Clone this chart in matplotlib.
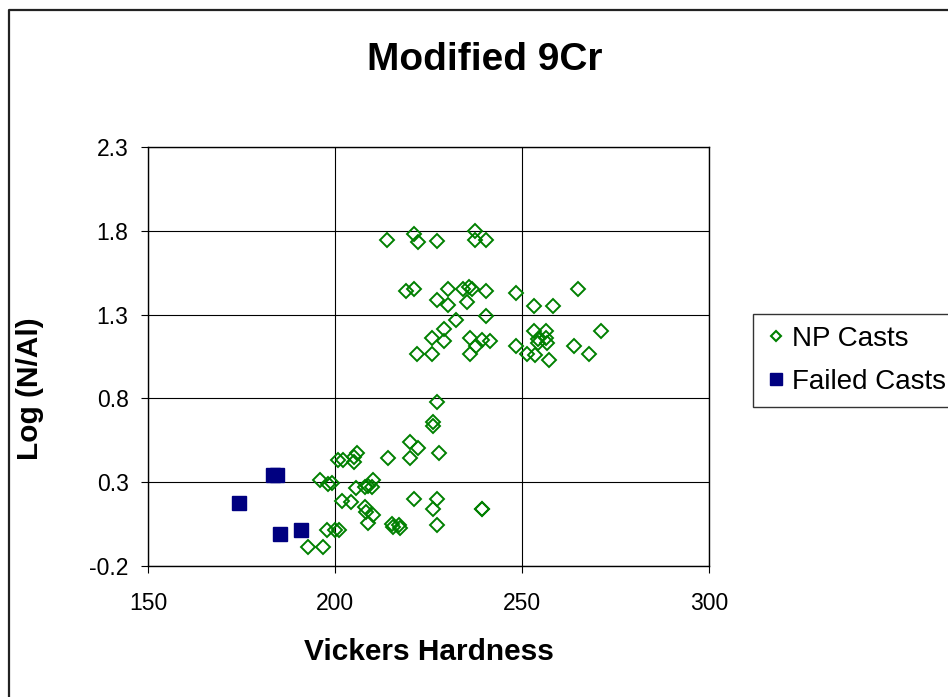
import matplotlib
matplotlib.use("Agg")
import matplotlib.pyplot as plt
from matplotlib.lines import Line2D

plt.rcParams['font.family'] = ['Liberation Sans', 'DejaVu Sans']

np_x = [196.0, 198.2, 199.1, 192.9, 196.9, 197.8, 200.0, 201.2,
        227.2, 226.1, 226.1, 220.1, 222.1, 227.7, 220.1, 214.1,
        205.8, 205.0, 205.1, 200.9, 202.1, 205.6, 208.0, 208.9, 210.1, 209.8,
        201.8, 204.2, 208.0, 208.2, 210.2, 208.9, 221.1, 227.2, 226.1, 227.2,
        239.2, 239.4, 215.2, 215.6, 217.1, 217.4,
        214.0, 221.0, 222.2, 227.2, 237.3, 237.3, 240.4,
        219.0, 221.1, 230.1, 234.3, 235.9, 236.5, 240.3,
        227.2, 230.1, 235.2, 240.3, 232.3, 229.2, 226.0, 229.2,
        222.0, 226.0, 236.1, 239.2, 241.4, 237.6, 236.1,
        248.3, 264.9, 253.3, 258.4, 253.3, 256.4, 254.2, 256.4, 254.4, 256.6,
        248.3, 251.3, 253.5, 257.3, 264.0, 267.9, 271.0]
np_y = [0.314, 0.288, 0.294, -0.086, -0.086, 0.013, 0.015, 0.015,
        0.779, 0.658, 0.637, 0.542, 0.506, 0.472, 0.445, 0.445,
        0.472, 0.45, 0.421, 0.435, 0.435, 0.267, 0.273, 0.278, 0.314, 0.27,
        0.189, 0.183, 0.152, 0.122, 0.106, 0.055, 0.2, 0.2, 0.142, 0.047,
        0.142, 0.14, 0.051, 0.031, 0.045, 0.025,
        1.748, 1.779, 1.734, 1.738, 1.799, 1.748, 1.748,
        1.441, 1.452, 1.455, 1.452, 1.465, 1.452, 1.441,
        1.385, 1.358, 1.375, 1.294, 1.27, 1.213, 1.158, 1.142,
        1.065, 1.065, 1.158, 1.146, 1.142, 1.112, 1.065,
        1.431, 1.452, 1.35, 1.35, 1.203, 1.203, 1.152, 1.158, 1.132, 1.132,
        1.11, 1.065, 1.061, 1.029, 1.11, 1.065, 1.203]

failed_x = [183.5, 184.5, 174.3, 185.3, 190.9]
failed_y = [0.344, 0.344, 0.175, -0.007, 0.013]

x_ticks = [150, 200, 250, 300]
y_ticks = [-0.2, 0.3, 0.8, 1.3, 1.8, 2.3]

W, H = 948, 697
fig = plt.figure(figsize=(W / 100, H / 100), dpi=100)
fig.patch.set_facecolor('white')

# chart-area border (only left and top edges visible)
fig.add_artist(Line2D([8.5 / W, 8.5 / W, 1.0], [0.0, 1 - 10 / H, 1 - 10 / H],
                      transform=fig.transFigure, color='#222222', linewidth=1.6))

ax = fig.add_axes([148 / W, 1 - 566 / H, (709 - 148) / W, (566 - 147) / H])
ax.set_xlim(150, 300)
ax.set_ylim(-0.2, 2.3)
ax.set_xticks(x_ticks)
ax.set_yticks(y_ticks)
ax.set_yticklabels([f"{v:.1f}" for v in y_ticks])
ax.grid(True, color='black', linewidth=0.8)
ax.set_axisbelow(True)
for s in ax.spines.values():
    s.set_color('black')
    s.set_linewidth(1.0)
ax.tick_params(labelsize=16.5, length=5, width=0.8, direction='out')
ax.tick_params(axis='x', pad=13.5)
ax.tick_params(axis='y', pad=9)

ax.plot(np_x, np_y, linestyle='none', marker='D', markersize=7.2,
        markerfacecolor='none', markeredgecolor='#008000', markeredgewidth=1.4,
        label='NP Casts', clip_on=False)
ax.plot(failed_x, failed_y, linestyle='none', marker='s', markersize=9.5,
        markerfacecolor='#000080', markeredgecolor='#000080',
        label='Failed Casts', clip_on=False)

fig.text(428.5 / W, 1 - 652 / H, 'Vickers Hardness', fontsize=21.5, fontweight='bold',
         ha='center', va='center')
fig.text(30 / W, 1 - 389 / H, 'Log (N/Al)', fontsize=21.5, fontweight='bold',
         ha='center', va='center', rotation=90)
fig.text(485 / W, 1 - 60 / H, 'Modified 9Cr', fontsize=28, fontweight='bold',
         ha='center', va='center')

leg = fig.legend(loc='upper left', bbox_to_anchor=(753 / W, 1 - 314 / H),
                 fontsize=20, frameon=True, fancybox=False, edgecolor='black',
                 handletextpad=0.2, borderpad=0.42, borderaxespad=0.0,
                 labelspacing=0.63, handlelength=0.8)
leg.get_frame().set_linewidth(1.0)
hs = leg.legend_handles
hs[0].set_markersize(5.5)
hs[0].set_markeredgewidth(1.5)
hs[1].set_markersize(9)

fig.savefig('out.png', dpi=100, facecolor='white')
